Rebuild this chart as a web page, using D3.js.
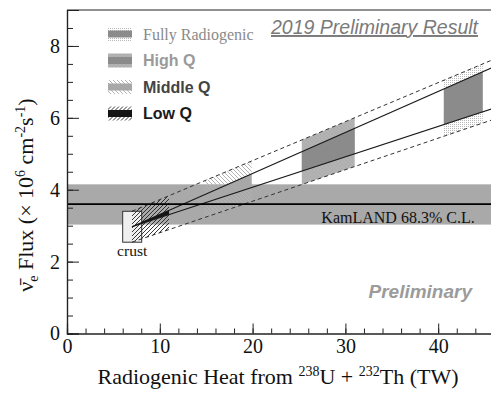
<!DOCTYPE html>
<html>
<head>
<meta charset="utf-8">
<script src="https://cdn.jsdelivr.net/npm/d3@7"></script>
<style>
  body { margin: 0; background: white; }
  svg { display: block; }
</style>
</head>
<body>
<div id="chart"></div>
<script>
// Data
const xTicks = [0, 10, 20, 30, 40];
const yTicks = [0, 2, 4, 6, 8];

const kamlandCentral = 3.6;
const kamlandBand = [3.03, 4.15];

const crustHeat = [6.0, 8.05];
const crustFlux = [2.54, 3.40];

// model lines as [heat TW, flux] end points
const upperModel = [[7, 2.97], [46, 7.42]];
const lowerModel = [[7, 2.97], [46, 6.27]];
const upperError = [[7, 3.40], [46, 7.63]];
const lowerError = [[7, 2.54], [46, 5.96]];

const modelNames = ["Low Q", "Middle Q", "High Q", "Fully Radiogenic"];
const modelHeatMin = [7.0, 14.8, 25.3, 40.6];
const modelHeatMax = [11.0, 19.9, 31.0, 44.8];

const legendOrder = ["Fully Radiogenic", "High Q", "Middle Q", "Low Q"];

// Dimensions
const width = 491;
const height = 393;
const margin = { top: 10, left: 67, bottom: 59.5 };

const x = d3.scaleLinear().domain([0, 46]).range([margin.left, margin.left + 46 * 9.28]);
const y = d3.scaleLinear().domain([0, 9]).range([height - margin.bottom, margin.top]);

const styles = {
  "Low Q": { inner: "#141414", pattern: "url(#hatchDark)", text: "#1a1a1a", font: "Liberation Sans, Arial, sans-serif", weight: "bold" },
  "Middle Q": { inner: "#a8a8a8", pattern: "url(#hatchLight)", text: "#444", font: "Liberation Sans, Arial, sans-serif", weight: "bold" },
  "High Q": { inner: "#8b8b8b", pattern: "url(#checks)", text: "#9a9a9a", font: "Liberation Sans, Arial, sans-serif", weight: "bold" },
  "Fully Radiogenic": { inner: "#8b8b8b", pattern: "url(#dots)", text: "#8a8a8a", font: "Liberation Serif, Times New Roman, serif", weight: "normal" }
};

const svg = d3.select("#chart")
  .append("svg")
    .attr("width", width)
    .attr("height", height);

// Patterns
const defs = svg.append("defs");
defs.append("clipPath")
    .attr("id", "plot-clip")
  .append("rect")
    .attr("x", x(0))
    .attr("y", y(9))
    .attr("width", x(46) - x(0))
    .attr("height", y(0) - y(9));

const dots = defs.append("pattern")
    .attr("id", "dots")
    .attr("patternUnits", "userSpaceOnUse")
    .attr("width", 2)
    .attr("height", 2);
dots.append("rect")
    .attr("width", 1)
    .attr("height", 1)
    .attr("fill", "#b8b8b8");

const checks = defs.append("pattern")
    .attr("id", "checks")
    .attr("patternUnits", "userSpaceOnUse")
    .attr("width", 4)
    .attr("height", 4);
checks.selectAll("circle")
  .data([[2, 2], [0, 0], [4, 0], [0, 4], [4, 4]])
  .join("circle")
    .attr("cx", d => d[0])
    .attr("cy", d => d[1])
    .attr("r", 1.2)
    .attr("fill", "none")
    .attr("stroke", "#858585")
    .attr("stroke-width", 0.9);

const hatchLight = defs.append("pattern")
    .attr("id", "hatchLight")
    .attr("patternUnits", "userSpaceOnUse")
    .attr("width", 4)
    .attr("height", 4);
hatchLight.append("path")
    .attr("d", "M0,0L4,4M-1,3L1,5M3,-1L5,1")
    .attr("stroke", "#b4b4b4")
    .attr("stroke-width", 1);

const hatchDark = defs.append("pattern")
    .attr("id", "hatchDark")
    .attr("patternUnits", "userSpaceOnUse")
    .attr("width", 4)
    .attr("height", 4);
hatchDark.append("path")
    .attr("d", "M0,4L4,0M-1,1L1,-1M3,5L5,3")
    .attr("stroke", "#222")
    .attr("stroke-width", 0.9);

const plot = svg.append("g")
    .attr("clip-path", "url(#plot-clip)");

// KamLAND band
plot.append("rect")
    .attr("x", x(0))
    .attr("y", y(kamlandBand[1]))
    .attr("width", x(46) - x(0))
    .attr("height", y(kamlandBand[0]) - y(kamlandBand[1]))
    .attr("fill", "#a9a9a9");

// Crust box
plot.append("rect")
    .attr("x", x(crustHeat[0]))
    .attr("y", y(crustFlux[1]))
    .attr("width", x(crustHeat[1]) - x(crustHeat[0]))
    .attr("height", y(crustFlux[0]) - y(crustFlux[1]))
    .attr("fill", "#efefef")
    .attr("stroke", "#333")
    .attr("stroke-width", 1);

// Model ranges
const fluxAt = (line, h) => d3.scaleLinear().domain([line[0][0], line[1][0]]).range([line[0][1], line[1][1]])(h);
const band = (top, bottom, h0, h1) => [
  [x(h0), y(fluxAt(top, h0))],
  [x(h1), y(fluxAt(top, h1))],
  [x(h1), y(fluxAt(bottom, h1))],
  [x(h0), y(fluxAt(bottom, h0))]
].join(" ");

const models = modelNames.map((name, i) => ({ name, h0: modelHeatMin[i], h1: modelHeatMax[i] }));

plot.append("g")
    .attr("class", "model-errors")
  .selectAll("polygon")
  .data(models)
  .join("polygon")
    .attr("points", d => band(upperError, lowerError, d.h0, d.h1))
    .attr("fill", d => styles[d.name].pattern);

plot.append("g")
    .attr("class", "model-centres")
  .selectAll("polygon")
  .data(models)
  .join("polygon")
    .attr("points", d => band(upperModel, lowerModel, d.h0, d.h1))
    .attr("fill", d => styles[d.name].inner);

// Model lines
const line = d3.line()
    .x(d => x(d[0]))
    .y(d => y(d[1]));
plot.selectAll(".model-line")
  .data([upperModel, lowerModel])
  .join("path")
    .attr("class", "model-line")
    .attr("d", line)
    .attr("fill", "none")
    .attr("stroke", "#1a1a1a")
    .attr("stroke-width", 1.1);
plot.selectAll(".error-line")
  .data([upperError, lowerError])
  .join("path")
    .attr("class", "error-line")
    .attr("d", line)
    .attr("fill", "none")
    .attr("stroke", "#333")
    .attr("stroke-width", 1)
    .attr("stroke-dasharray", "4 3");

// KamLAND central value
plot.append("line")
    .attr("x1", x(0))
    .attr("x2", x(46))
    .attr("y1", y(kamlandCentral))
    .attr("y2", y(kamlandCentral))
    .attr("stroke", "black")
    .attr("stroke-width", 1.6);

// Axes
const serif = "Liberation Serif, Times New Roman, serif";
const xMinor = d3.range(0, 47, 2);
const yMinor = d3.range(0, 9.01, 0.5);

const xAxis = svg.append("g")
    .attr("transform", `translate(0, ${y(0)})`);
xAxis.append("g")
    .call(d3.axisBottom(x).tickValues(xMinor).tickSize(-5).tickFormat(""));
xAxis.append("g")
    .call(d3.axisBottom(x).tickValues(xTicks).tickSize(-10).tickPadding(5).tickFormat(d3.format("d")));

const yAxis = svg.append("g")
    .attr("transform", `translate(${x(0)}, 0)`);
yAxis.append("g")
    .call(d3.axisLeft(y).tickValues(yMinor).tickSize(-6).tickFormat(""));
yAxis.append("g")
    .call(d3.axisLeft(y).tickValues(yTicks).tickSize(-12).tickPadding(7).tickFormat(d3.format("d")));

svg.selectAll(".domain")
    .attr("stroke", "#222")
    .attr("stroke-width", 1.2);
svg.selectAll(".tick line")
    .attr("stroke", "#222");
svg.selectAll(".tick text")
    .attr("font-family", serif)
    .attr("font-size", 20)
    .attr("fill", "#111");

// top frame
svg.append("line")
    .attr("x1", x(0))
    .attr("x2", width)
    .attr("y1", y(9))
    .attr("y2", y(9))
    .attr("stroke", "#222")
    .attr("stroke-width", 1.2);

// Axis labels
const xLabel = svg.append("text")
    .attr("x", 278)
    .attr("y", 384)
    .attr("text-anchor", "middle")
    .attr("font-family", serif)
    .attr("font-size", 22)
    .attr("fill", "#111");
xLabel.append("tspan").text("Radiogenic Heat from ");
xLabel.append("tspan").attr("dy", -8).attr("font-size", 14).text("238");
xLabel.append("tspan").attr("dy", 8).text("U + ");
xLabel.append("tspan").attr("dy", -8).attr("font-size", 14).text("232");
xLabel.append("tspan").attr("dy", 8).text("Th (TW)");

const yLabel = svg.append("text")
    .attr("transform", "translate(33, 195) rotate(-90)")
    .attr("text-anchor", "middle")
    .attr("font-family", serif)
    .attr("font-size", 22)
    .attr("fill", "#111");
yLabel.append("tspan").text("\u03bd\u0304");
yLabel.append("tspan").attr("dy", 5).attr("font-size", 14).text("e");
yLabel.append("tspan").attr("dy", -5).text(" Flux (\u00d7 10");
yLabel.append("tspan").attr("dy", -8).attr("font-size", 14).text("6");
yLabel.append("tspan").attr("dy", 8).text(" cm");
yLabel.append("tspan").attr("dy", -8).attr("font-size", 14).text("-2");
yLabel.append("tspan").attr("dy", 8).text("s");
yLabel.append("tspan").attr("dy", -8).attr("font-size", 14).text("-1");
yLabel.append("tspan").attr("dy", 8).text(")");

// Annotations
svg.append("text")
    .attr("x", 398)
    .attr("y", 223)
    .attr("text-anchor", "middle")
    .attr("font-family", serif)
    .attr("font-size", 16)
    .attr("fill", "#111")
    .text("KamLAND 68.3% C.L.");

svg.append("text")
    .attr("x", x((crustHeat[0] + crustHeat[1]) / 2))
    .attr("y", 256)
    .attr("text-anchor", "middle")
    .attr("font-family", serif)
    .attr("font-size", 15.5)
    .attr("fill", "#111")
    .text("crust");

svg.append("text")
    .attr("x", 472)
    .attr("y", 298)
    .attr("text-anchor", "end")
    .attr("font-family", "Liberation Sans, Arial, sans-serif")
    .attr("font-size", 19)
    .attr("font-style", "italic")
    .attr("font-weight", "bold")
    .attr("fill", "#9b9b9b")
    .text("Preliminary");

svg.append("text")
    .attr("x", 478)
    .attr("y", 34)
    .attr("text-anchor", "end")
    .attr("font-family", "Liberation Sans, Arial, sans-serif")
    .attr("font-size", 19.5)
    .attr("font-style", "italic")
    .attr("text-decoration", "underline")
    .attr("fill", "#7a7a7a")
    .text("2019 Preliminary Result");

// Legend
const legend = svg.append("g")
    .attr("transform", "translate(108, 34)")
  .selectAll("g")
  .data(legendOrder)
  .join("g")
    .attr("transform", (d, i) => `translate(0, ${i * 26.5})`);
legend.append("rect")
    .attr("x", 0)
    .attr("y", -7)
    .attr("width", 24)
    .attr("height", 14)
    .attr("fill", d => styles[d].pattern);
legend.append("rect")
    .attr("x", 0)
    .attr("y", -3.5)
    .attr("width", 24)
    .attr("height", 7)
    .attr("fill", d => styles[d].inner);
legend.append("text")
    .attr("x", 35)
    .attr("y", 0)
    .attr("dominant-baseline", "central")
    .attr("font-family", d => styles[d].font)
    .attr("font-weight", d => styles[d].weight)
    .attr("font-size", 16)
    .attr("fill", d => styles[d].text)
    .text(d => d);
</script>
</body>
</html>
